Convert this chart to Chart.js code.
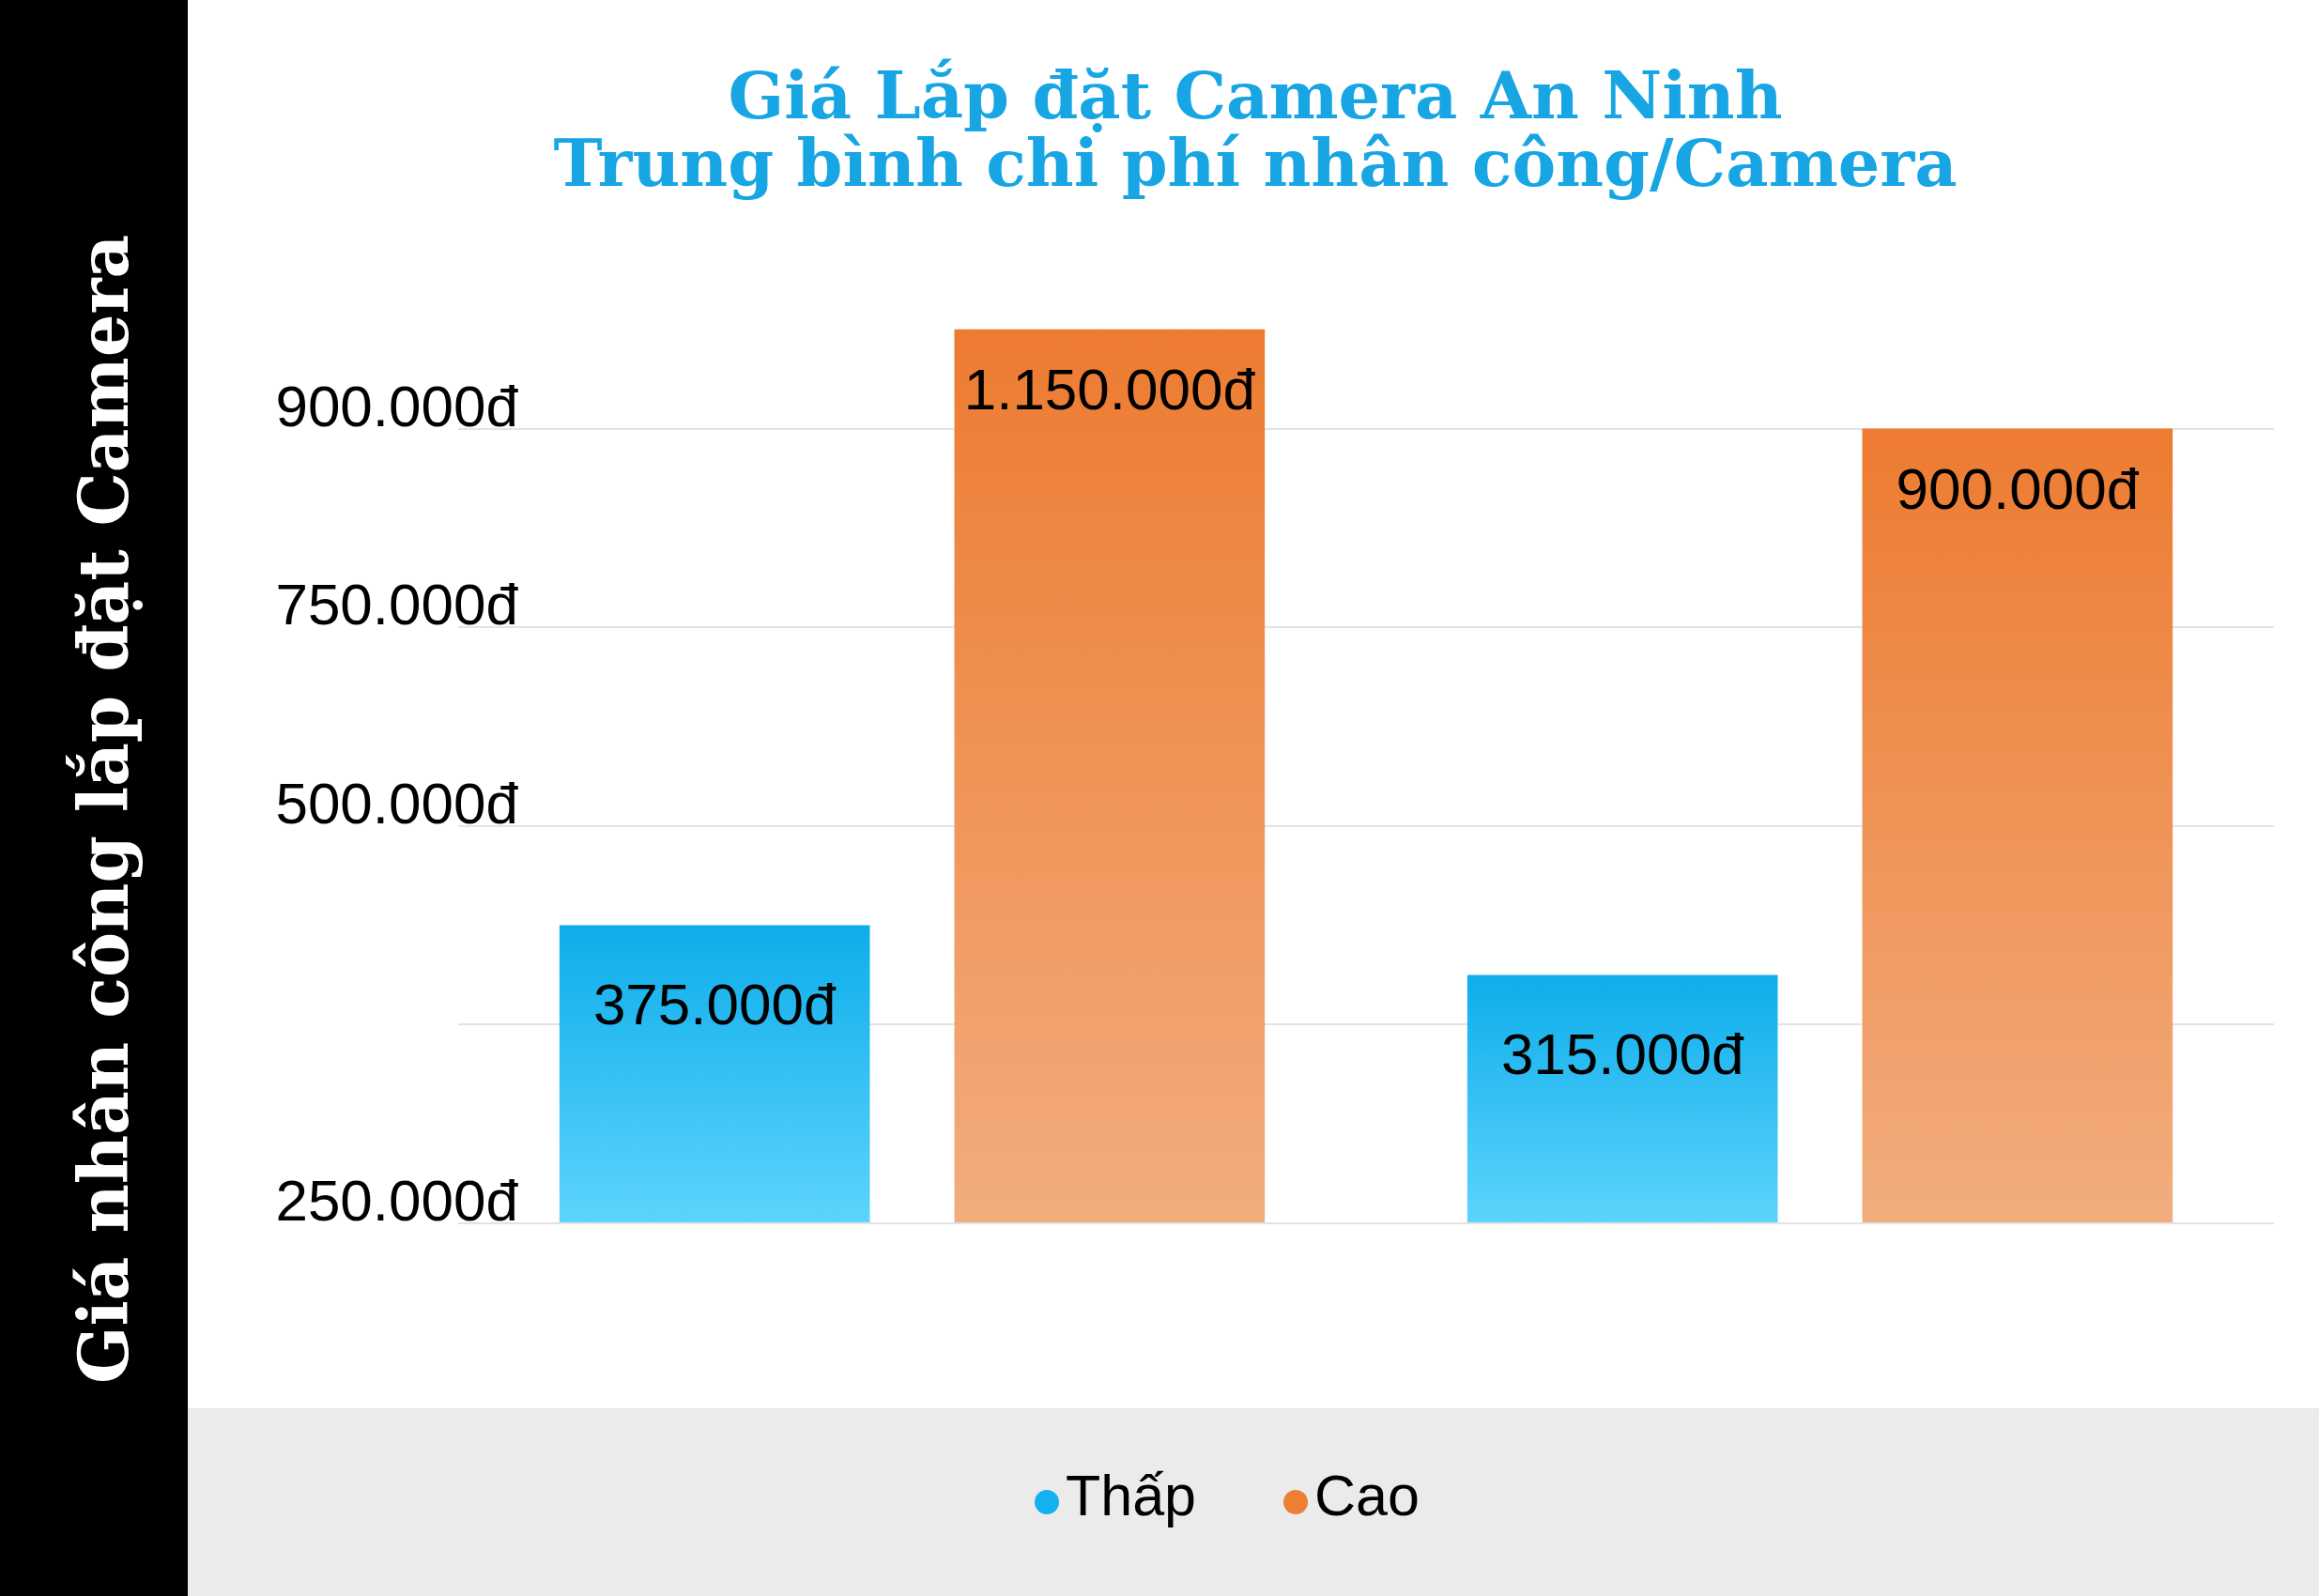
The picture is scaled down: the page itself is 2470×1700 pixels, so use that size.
<!DOCTYPE html>
<html><head><meta charset="utf-8">
<script src="https://cdn.jsdelivr.net/npm/chart.js@4"></script>
<style>
html,body{margin:0;padding:0;background:#fff;width:2470px;height:1700px;overflow:hidden}
#strip{position:absolute;left:0;top:0;width:200px;height:1700px;background:#000}
#ytitle{position:absolute;left:110px;top:862px;transform:translate(-50%,-50%) rotate(-90deg);white-space:nowrap;color:#fff;font:bold 72px "DejaVu Serif";}
#band{position:absolute;left:200px;top:1500px;width:2270px;height:200px;background:#ebebeb}
canvas{position:absolute;left:0;top:0}
</style></head><body>
<div id="strip"></div><div id="band"></div>
<div id="ytitle">Giá nhân công lắp đặt Camera</div>
<canvas id="c" width="2470" height="1700"></canvas>
<script>
const categories = ["Nhóm 1","Nhóm 2"];
const seriesNames = ["Thấp","Cao"];
// bar heights in axis steps (the axis is stepped, not linear)
const lowSteps = [1.5, 1.25];
const highSteps = [4.5, 4];
const lowLabels = ["375.000đ","315.000đ"];
const highLabels = ["1.150.000đ","900.000đ"];
const tickLabels = ["250.000đ","","500.000đ","750.000đ","900.000đ"];
const titleLines = ["Giá Lắp đặt Camera An Ninh","Trung bình chi phí nhân công/Camera"];

function grad(ctx, top, bot){
  const c = ctx.chart, ch = c.chartArea; if(!ch) return top;
  const y = c.scales.y; const yv = y.getPixelForValue(ctx.raw||0), y0 = y.getPixelForValue(0);
  const g = c.ctx.createLinearGradient(0, yv, 0, y0);
  g.addColorStop(0, top); g.addColorStop(1, bot); return g;
}
const deco = {
  id:'deco',
  afterDatasetsDraw(chart){
    const ctx = chart.ctx, y = chart.scales.y;
    ctx.save();
    ctx.fillStyle='#000'; ctx.textAlign='right'; ctx.textBaseline='middle';
    ctx.font='62px "Liberation Sans"';
    tickLabels.forEach((t,i)=>{ if(t) ctx.fillText(t, 552, y.getPixelForValue(i)-20); });
    ctx.textAlign='center'; ctx.font='62px "Liberation Sans"';
    chart.getDatasetMeta(0).data.forEach((b,i)=>ctx.fillText(lowLabels[i], b.x, b.y+88));
    chart.getDatasetMeta(1).data.forEach((b,i)=>ctx.fillText(highLabels[i], b.x, b.y+68));
    // title
    ctx.fillStyle='#17a6e3'; ctx.font='bold 70px "DejaVu Serif"';
    ctx.fillText(titleLines[0], 1337, 108); ctx.fillText(titleLines[1], 1337, 180);
    // legend
    const cols=['#15b0ee','#ee7e33']; const xs=[1115,1380];
    ctx.font='61px "Liberation Sans"'; ctx.textAlign='left';
    seriesNames.forEach((n,i)=>{ ctx.fillStyle=cols[i]; ctx.beginPath(); ctx.arc(xs[i],1600,13,0,Math.PI*2); ctx.fill();
      ctx.fillStyle='#000'; ctx.fillText(n, xs[i]+20, 1597); });
    ctx.restore();
  }
};
new Chart(document.getElementById('c'),{
  type:'bar',
  data:{labels:categories,datasets:[
    {label:seriesNames[0],data:lowSteps,backgroundColor:c=>grad(c,'#0eadeb','#5dd4fc')},
    {label:seriesNames[1],data:highSteps,backgroundColor:c=>grad(c,'#ed7b31','#f2ad7e')}
  ]},
  options:{responsive:false,animation:false,
    layout:{padding:{left:488,right:48,top:245,bottom:397}},
    categoryPercentage:0.87,barPercentage:0.786,
    plugins:{legend:{display:false},tooltip:{enabled:false}},
    scales:{
      x:{display:false,grid:{display:false}},
      y:{min:0,max:5,ticks:{display:false,stepSize:1},border:{display:false},
        grid:{color:c=>c.tick.value<=4?'#e3e3e3':'rgba(0,0,0,0)',lineWidth:2,drawTicks:false}}
    }},
  plugins:[deco]
});
</script></body></html>
